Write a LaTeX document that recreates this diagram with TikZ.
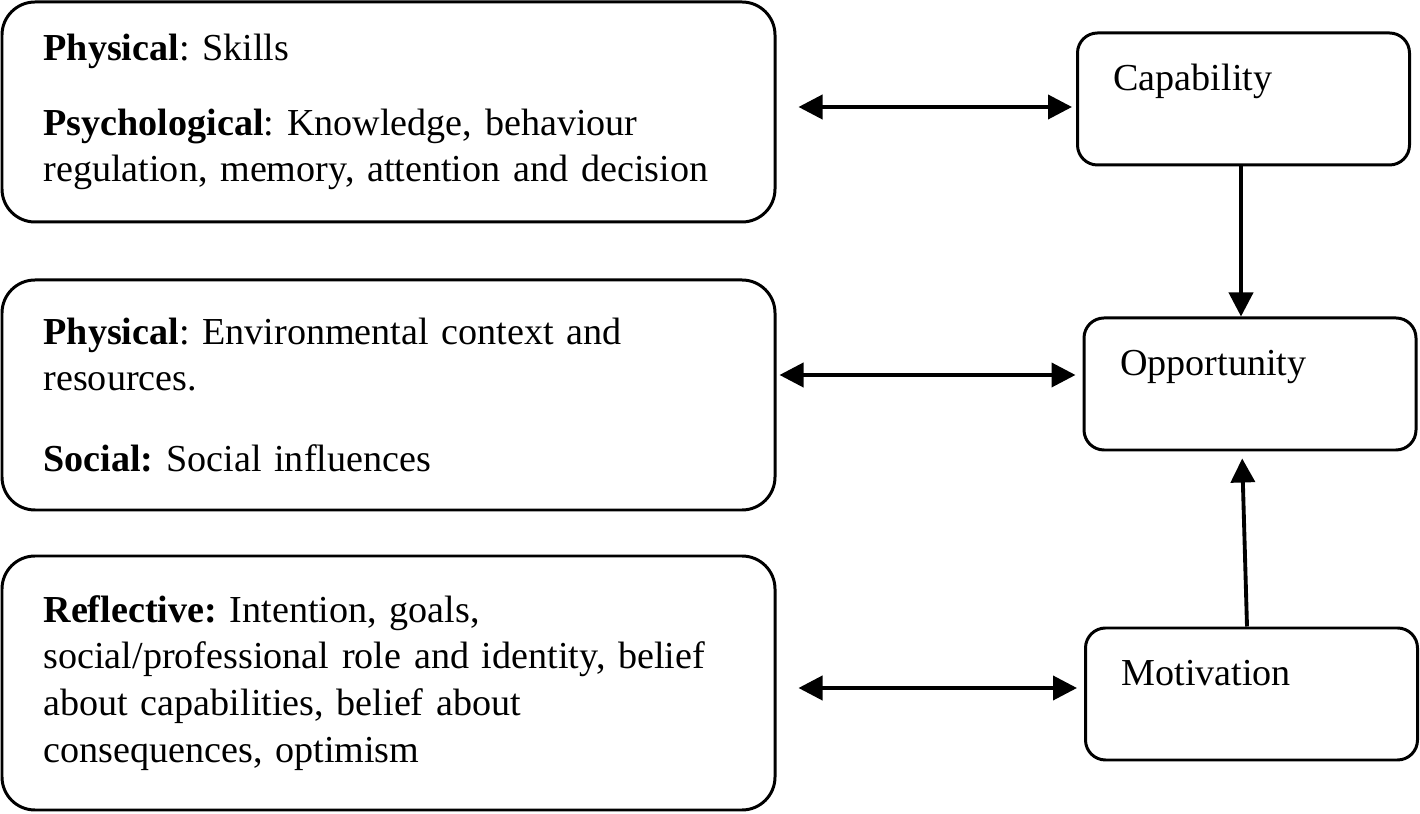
\documentclass[tikz,border=0pt]{standalone}
\usepackage{fontspec}
\setmainfont{Liberation Serif}
\usetikzlibrary{arrows.meta}

\begin{document}
\begin{tikzpicture}[line width=0.85pt,
    bigbox/.style = {draw, rounded corners=0.33cm, align=left, text width=6.9cm,
      inner xsep=0.41cm, minimum width=7.73cm,
      font=\fontsize{10.85}{13.3}\selectfont\frenchspacing},
    com/.style = {draw, rounded corners=0.2cm, align=left, text width=2.6cm,
      inner xsep=0.36cm, minimum height=1.32cm,
      text height=0.3cm, text depth=0.46cm,
      font=\fontsize{10.85}{13.3}\selectfont},
    link/.style = {line width=1.1pt, -{Triangle[length=0.24cm,width=0.24cm]}},
    dbl/.style = {line width=1.1pt, {Triangle[length=0.24cm,width=0.24cm]}-{Triangle[length=0.24cm,width=0.24cm]}}]
  \useasboundingbox (0,0) rectangle (14.2,8.14);

  \node[bigbox, minimum height=2.2cm] (capsrc) at (3.885,7.02)
    {\textbf{Physical}: Skills\\[0.28cm]
     \textbf{Psychological}: Knowledge, behaviour\\
     regulation, memory, attention and decision};
  \node[bigbox, minimum height=2.3cm] (oppsrc) at (3.885,4.19)
    {\textbf{Physical}: Environmental context and\\
     resources.\\[0.34cm]
     \textbf{Social:} Social influences};
  \node[bigbox, minimum height=2.54cm] (motsrc) at (3.885,1.31)
    {\textbf{Reflective:} Intention, goals,\\
     social/professional role and identity, belief\\
     about capabilities, belief about\\
     consequences, optimism};

  \node[com] (cap) at (12.435,7.15) {Capability};
  \node[com] (opp) at (12.50,4.30) {Opportunity};
  \node[com] (mot) at (12.515,1.20) {Motivation};

  \draw[dbl, shorten <=0.22cm, shorten >=0.04cm]
    ([yshift=0.05cm]capsrc.east) -- ([yshift=0.05cm]capsrc.east -| cap.west);
  \draw[dbl, shorten <=0.03cm, shorten >=0.07cm]
    ([yshift=0.2cm]oppsrc.east) -- ([yshift=0.2cm]oppsrc.east -| opp.west);
  \draw[dbl, shorten <=0.22cm, shorten >=0.07cm]
    ([yshift=-0.05cm]motsrc.east) -- ([yshift=-0.05cm]motsrc.east -| mot.west);

  \draw[link] ([xshift=-0.025cm]cap.south) -- ([xshift=-0.025cm]cap.south |- opp.north);
  \draw[link, shorten >=0.07cm] ([xshift=-0.045cm]mot.north) -- ([xshift=-0.08cm]opp.south);
\end{tikzpicture}
\end{document}
